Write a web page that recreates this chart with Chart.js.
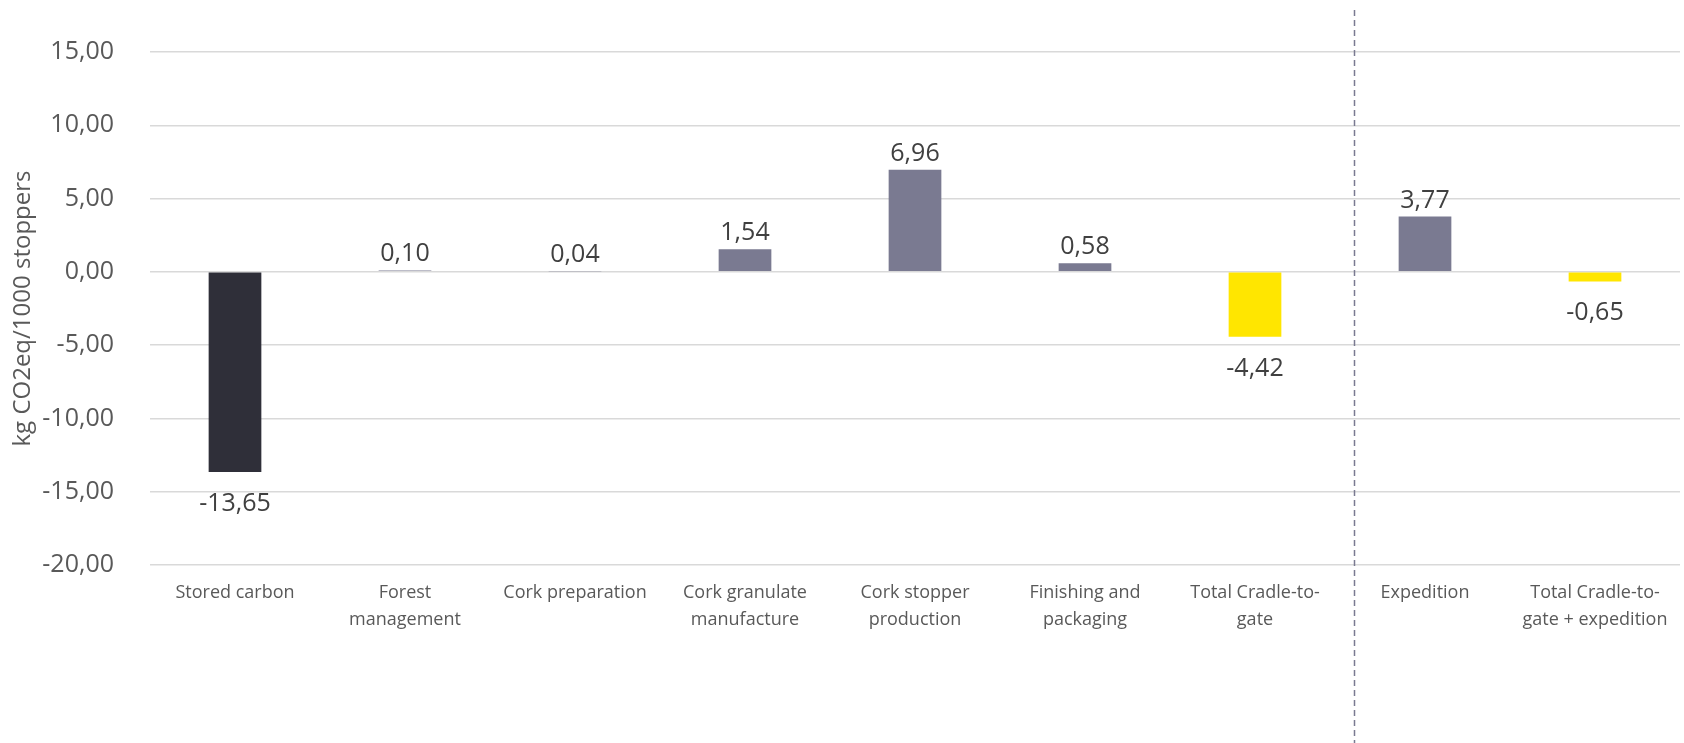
<!DOCTYPE html>
<html>
<head>
<meta charset="utf-8">
<script src="https://cdn.jsdelivr.net/npm/chart.js@4/dist/chart.umd.min.js"></script>
<style>
  html, body { margin: 0; padding: 0; background: #fff; }
  #wrap { width: 1684px; height: 743px; position: relative; }
</style>
</head>
<body>
<div id="wrap"><canvas id="c"></canvas></div>
<script>
const categories = [
  ['Stored carbon'],
  ['Forest', 'management'],
  ['Cork preparation'],
  ['Cork granulate', 'manufacture'],
  ['Cork stopper', 'production'],
  ['Finishing and', 'packaging'],
  ['Total Cradle-to-', 'gate'],
  ['Expedition'],
  ['Total Cradle-to-', 'gate + expedition'],
];
const values = [-13.65, 0.10, 0.04, 1.54, 6.96, 0.58, -4.42, 3.77, -0.65];
const barColors = ['#2f2f39', '#7a7a91', '#7a7a91', '#7a7a91', '#7a7a91', '#7a7a91', '#ffe600', '#7a7a91', '#ffe600'];
const yTicks = { min: -20, max: 15, step: 5 };
const axisTitle = 'kg CO2eq/1000 stoppers';
const dividerAt = 6.58; // category index position of the dashed separator

const fmt = (v) => v.toFixed(2).replace('.', ',');
const FONT = "'Open Sans', sans-serif";

// value labels above positive bars, below negative ones
const valueLabels = {
  id: 'valueLabels',
  afterDatasetsDraw(chart) {
    const { ctx } = chart;
    const meta = chart.getDatasetMeta(0);
    ctx.save();
    ctx.font = `25px ${FONT}`;
    ctx.fillStyle = '#404040';
    ctx.textAlign = 'center';
    ctx.textBaseline = 'alphabetic';
    meta.data.forEach((bar, i) => {
      const v = values[i];
      const y = v >= 0 ? bar.y - 9 : bar.y + 39;
      ctx.fillText(fmt(v), bar.x, y);
    });
    ctx.restore();
  },
};

const divider = {
  id: 'divider',
  afterDraw(chart) {
    const { ctx } = chart;
    const x = Math.round(chart.scales.x.getPixelForValue(dividerAt)) + 0.5;
    ctx.save();
    ctx.strokeStyle = '#7a7a91';
    ctx.lineWidth = 1.5;
    ctx.setLineDash([6, 4]);
    ctx.beginPath();
    ctx.moveTo(x, 10);
    ctx.lineTo(x, chart.height);
    ctx.stroke();
    ctx.restore();
  },
};

new Chart(document.getElementById('c'), {
  type: 'bar',
  data: {
    labels: categories,
    datasets: [{ data: values, backgroundColor: barColors, borderWidth: 0 }],
  },
  options: {
    responsive: true,
    maintainAspectRatio: false,
    animation: false,
    layout: { padding: { top: 52, right: 4, bottom: 104, left: 0 } },
    plugins: { legend: { display: false }, tooltip: { enabled: false } },
    datasets: { bar: { categoryPercentage: 1, barPercentage: 0.31 } },
    scales: {
      x: {
        grid: { display: false },
        border: { display: false },
        ticks: {
          color: '#595959',
          font: { family: FONT, size: 18, lineHeight: 1.5 },
          padding: 6,
          maxRotation: 0,
          autoSkip: false,
        },
      },
      y: {
        min: yTicks.min,
        max: yTicks.max,
        afterFit(scale) { scale.width = 150; },
        grid: { color: '#d9d9d9', lineWidth: 1.5, drawTicks: false },
        border: { display: false },
        ticks: {
          stepSize: yTicks.step,
          color: '#595959',
          font: { family: FONT, size: 25 },
          padding: 36,
          callback: (v) => fmt(v),
        },
        title: {
          display: true,
          text: axisTitle,
          color: '#595959',
          font: { family: FONT, size: 24 },
          padding: { top: 9, bottom: 0 },
        },
      },
    },
  },
  plugins: [valueLabels, divider],
});
</script>
</body>
</html>
